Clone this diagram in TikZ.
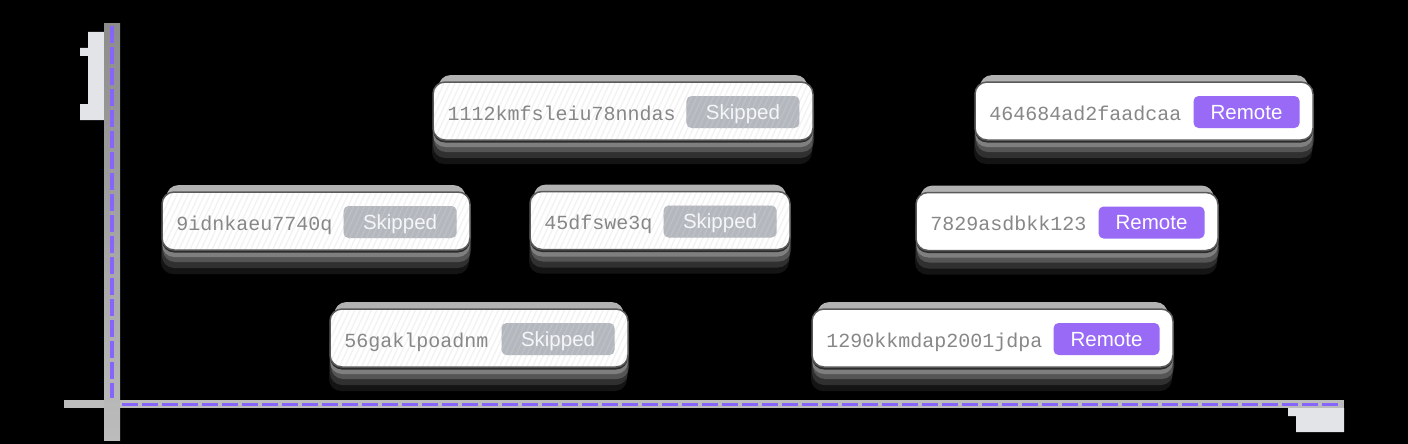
\documentclass[tikz,border=0pt]{standalone}
\usepackage{fontspec}
\setmainfont{Liberation Sans}
\newfontfamily\idfont{Liberation Mono}
\usetikzlibrary{shadows,patterns.meta}
\definecolor{axisgray}{RGB}{188,188,188}
\definecolor{axisdark}{RGB}{140,140,140}
\definecolor{axispurple}{RGB}{135,100,250}
\definecolor{glyphgray}{RGB}{226,228,232}
\definecolor{idgray}{RGB}{135,135,135}
\definecolor{badgegray}{RGB}{180,184,190}
\definecolor{skiptext}{RGB}{244,246,248}
\definecolor{remotepurple}{RGB}{152,106,246}
\definecolor{rimgray}{RGB}{90,90,90}

\begin{document}
\begin{tikzpicture}[x=1pt,y=-1pt,
  card/.style={rounded corners=12pt, fill=white, draw=rimgray, line width=1.5pt,
    minimum height=58pt, inner sep=0pt,
    general shadow={shadow yshift=-24pt, shadow xshift=-1pt, fill=white, opacity=0.08},
    general shadow={shadow yshift=-18pt, fill=white, opacity=0.12},
    general shadow={shadow yshift=-12pt, shadow xshift=1pt, fill=white, opacity=0.18},
    general shadow={shadow yshift=-7pt, fill=white, opacity=0.25},
    general shadow={shadow yshift=-2.5pt, fill=gray!35!black},
    general shadow={shadow yshift=8pt, shadow scale=0.97, fill=gray!60}},
  skip card/.style={card, preaction={fill=white},
    pattern={Lines[angle=65,distance=5pt,line width=1.3pt]}, pattern color=gray!10},
  remote card/.style={card},
  idtext/.style={font=\idfont\fontsize{20}{24}\selectfont, text=idgray, inner sep=0pt},
  badge/.style={rounded corners=5pt, minimum height=32pt, inner sep=0pt,
    text height=14pt, text depth=0pt, font=\fontsize{20.5}{22}\selectfont},
  skip badge/.style={badge, minimum width=113pt, preaction={fill=badgegray}, text=skiptext,
    pattern={Lines[angle=65,distance=5pt,line width=1.3pt]}, pattern color=white!12!badgegray},
  remote badge/.style={badge, minimum width=106pt, fill=remotepurple, text=white}]

\fill[black] (0,0) rectangle (1408,444);
\useasboundingbox (0,0) rectangle (1408,444);

% axes
\coordinate (ytop) at (112,26);
\coordinate (yend) at (112,398);
\coordinate (xbeg) at (122,404);
\coordinate (xend) at (1342,404);
\fill[glyphgray] (88,32) -- (104,32) -- (104,120) -- (80,120) -- (80,104) -- (88,104)
  -- (88,56) -- (80,56) -- (80,48) -- (88,48) -- cycle;
\fill[glyphgray] (1288,408) -- (1344,408) -- (1344,432) -- (1296,432) -- (1296,416)
  -- (1288,416) -- cycle;
\fill[axisgray] (64,400) rectangle (1344,408);
\shade[top color=axisdark, bottom color=axisgray] (104,24) rectangle (120,440);
\draw[axispurple, line width=4pt, dash pattern=on 17pt off 4pt] (ytop) -- (yend);
\draw[axispurple, line width=3pt, dash pattern=on 16pt off 4pt] (xbeg) -- (xend);

% commits
\foreach \n/\cx/\cy/\w/\id/\kind/\lab in {
    1/623/111/380/1112kmfsleiu78nndas/skip/Skipped,
    2/1144/111/338/464684ad2faadcaa/remote/Remote,
    3/316/221/308/9idnkaeu7740q/skip/Skipped,
    4/660/220.5/260/45dfswe3q/skip/Skipped,
    5/1067/221.5/302/7829asdbkk123/remote/Remote,
    6/479/338/298/56gaklpoadnm/skip/Skipped,
    7/992.5/338/361/1290kkmdap2001jdpa/remote/Remote}{
  \node[\kind\space card, minimum width=\w pt] (C-\n) at (\cx,\cy) {};
  \node[idtext, anchor=base west] (T-\n) at ([xshift=15pt,yshift=-9pt]C-\n.west) {\id};
  \node[\kind\space badge, anchor=east] (B-\n) at ([xshift=-14pt,yshift=-1pt]C-\n.east) {\lab};
}
\end{tikzpicture}
\end{document}
